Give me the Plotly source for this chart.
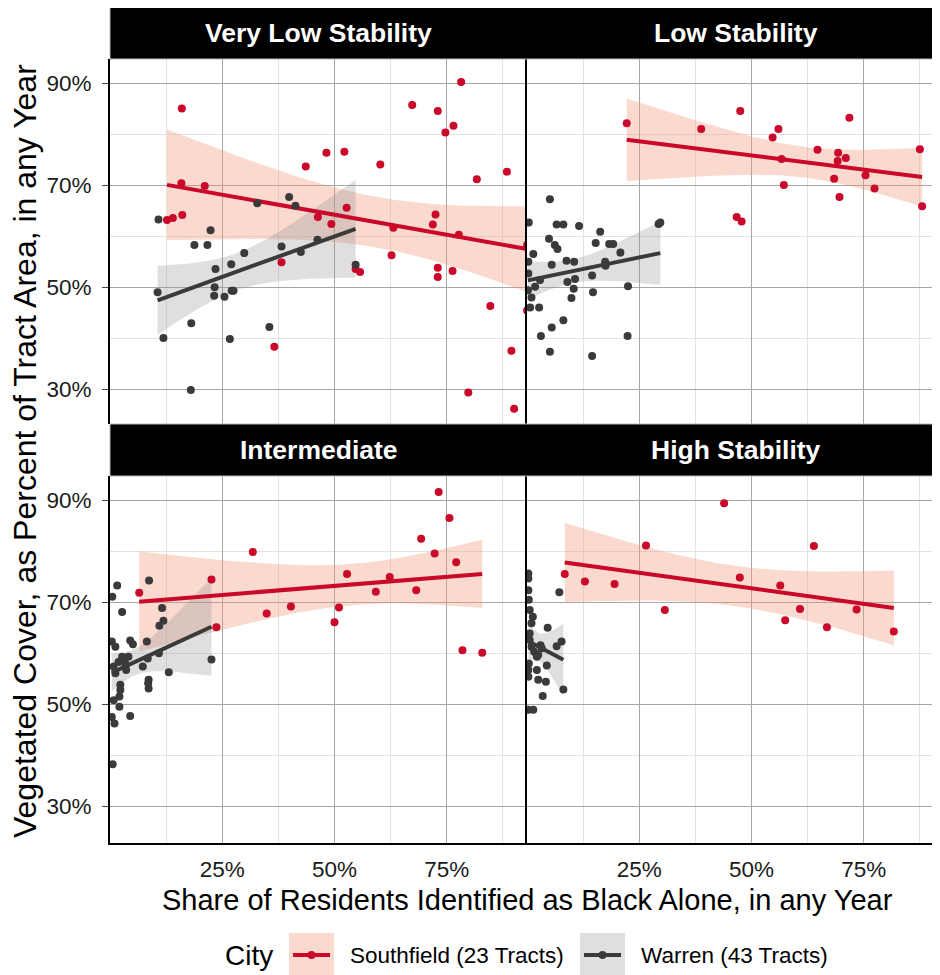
import numpy as np
import plotly.graph_objects as go

# ---------------- data (percent values) ----------------
panels = ["Very Low Stability", "Low Stability", "Intermediate", "High Stability"]
cities = ["Southfield (23 Tracts)", "Warren (43 Tracts)"]
x_ticks = [25, 50, 75]
x_tick_labels = ["25%", "50%", "75%"]
y_ticks = [30, 50, 70, 90]
y_tick_labels = ["30%", "50%", "70%", "90%"]

vls_south_x = [16.0, 15.9, 21.1, 12.7, 14.0, 16.1, 43.6, 48.2, 52.2, 52.7, 46.3, 49.3, 38.2, 36.6,
               54.7, 55.7, 60.2, 63.1, 62.7, 67.3, 73.0, 74.7, 76.5, 78.2, 72.5, 71.9, 77.7, 73.0,
               73.0, 76.3, 81.7, 88.4, 84.7, 89.4, 79.8, 90.0, 92.9, 92.9]
vls_south_y = [85.1, 70.4, 69.9, 63.2, 63.6, 64.2, 73.7, 76.4, 76.6, 65.6, 63.8, 62.4, 54.9, 38.3,
               53.6, 53.0, 74.1, 61.7, 56.3, 85.8, 84.6, 80.4, 81.7, 90.3, 64.3, 62.3, 60.3, 53.8,
               52.0, 53.2, 71.2, 72.7, 46.3, 37.5, 29.3, 26.1, 58.3, 45.4]
vls_warren_x = [10.8, 22.4, 18.8, 21.7, 29.9, 23.5, 27.0, 23.3, 23.2, 25.5, 27.1, 27.5, 10.6, 11.9,
                18.1, 18.0, 26.7, 35.5, 32.8, 39.9, 41.3, 38.2, 42.5, 46.2, 54.7]
vls_warren_y = [63.3, 61.2, 58.3, 58.3, 56.7, 53.6, 54.5, 50.0, 48.3, 48.1, 49.3, 49.3, 49.0, 40.0,
                42.9, 29.8, 39.8, 42.2, 66.5, 67.7, 66.0, 58.0, 56.9, 59.3, 54.4]

ls_south_x = [22.2, 38.8, 47.5, 54.7, 56.0, 56.7, 57.2, 46.7, 47.8, 64.7, 69.3, 71.0, 69.2, 71.8,
              68.4, 69.6, 75.4, 77.4, 87.5, 88.0]
ls_south_y = [82.2, 81.1, 84.6, 79.4, 81.1, 75.2, 70.1, 63.8, 62.9, 77.0, 76.4, 75.4, 74.8, 83.3,
              71.3, 67.7, 72.0, 69.4, 77.1, 65.9]
ls_warren_x = [5.1, 0.4, 6.6, 8.1, 11.6, 16.3, 4.9, 6.2, 6.8, 15.3, 18.3, 19.2, 20.8, 29.3, 29.7,
               1.4, 0.3, 5.5, 8.8, 10.5, 17.4, 17.5, 0.3, 2.9, 1.8, 9.0, 10.7, 10.4, 14.5, 22.5,
               1.0, 0.7, 2.7, 9.9, 14.7, 8.1, 5.5, 3.1, 5.1, 14.5, 22.4, 0.2]
ls_warren_y = [67.3, 62.7, 62.3, 62.3, 62.0, 60.9, 59.5, 58.3, 57.5, 58.7, 58.5, 58.5, 56.8, 62.4, 62.7,
               56.5, 55.0, 54.4, 55.2, 55.0, 55.0, 54.2, 52.7, 51.4, 50.1, 51.0, 51.6, 49.7, 52.3, 50.2,
               48.0, 46.0, 46.0, 47.9, 49.0, 43.5, 42.1, 40.4, 37.3, 36.5, 40.4, 49.4]

int_south_x = [6.5, 22.6, 23.7, 31.8, 34.9, 40.3, 50.0, 51.0, 52.8, 59.2, 62.3, 68.2, 69.3, 72.3,
               73.2, 75.6, 77.1, 78.5, 82.9]
int_south_y = [71.9, 74.5, 65.1, 79.9, 67.8, 69.2, 66.1, 69.0, 75.6, 72.1, 75.0, 72.4, 82.5, 79.6,
               91.7, 86.6, 77.9, 60.6, 60.1]
int_warren_x = [1.6, 0.5, 8.7, 2.7, 11.6, 11.9, 11.0, 8.2, 4.5, 5.1, 0.4, 1.2, 22.6, 2.7, 4.1, 3.4,
                0.8, 1.9, 8.4, 10.9, 7.3, 13.1, 3.6, 1.2, 8.6, 8.6, 8.5, 2.3, 2.3, 2.1, 0.8, 2.1,
                4.5, 0.4, 1.0, 0.6]
int_warren_y = [73.3, 71.1, 74.3, 68.1, 68.9, 66.4, 65.4, 62.3, 62.5, 61.8, 62.3, 61.3, 58.8, 59.3,
                59.3, 58.0, 57.4, 58.3, 59.0, 60.0, 57.4, 56.3, 56.7, 56.1, 54.8, 53.1, 54.1, 53.8,
                52.8, 51.5, 50.8, 49.5, 47.7, 47.5, 46.2, 38.2]

hs_south_x = [8.4, 12.9, 19.5, 26.5, 30.7, 43.9, 47.4, 56.4, 57.5, 60.8, 63.9, 66.8, 73.4, 81.7]
hs_south_y = [75.6, 74.1, 73.6, 81.2, 68.5, 89.5, 74.9, 73.3, 66.5, 68.7, 81.1, 65.1, 68.6, 64.3]
hs_warren_x = [7.2, 0.3, 0.3, 0.3, 0.4, 0.6, 1.3, 1.0, 4.6, 0.6, 0.6, 1.0, 1.6, 2.5, 3.0, 3.3, 6.6,
               7.7, 2.2, 0.4, 0.3, 2.2, 0.3, 2.5, 4.4, 4.2, 8.1, 3.5, 0.3, 1.4]
hs_warren_y = [72.0, 75.7, 74.7, 72.4, 70.5, 68.5, 67.2, 65.9, 65.0, 63.9, 62.6, 61.3, 60.3, 59.7,
               61.6, 61.0, 61.4, 62.3, 59.3, 58.0, 56.7, 56.7, 55.4, 54.8, 57.6, 54.4, 52.9, 51.6,
               48.9, 48.9]

panel_data = [
    (vls_south_x, vls_south_y, vls_warren_x, vls_warren_y),
    (ls_south_x, ls_south_y, ls_warren_x, ls_warren_y),
    (int_south_x, int_south_y, int_warren_x, int_warren_y),
    (hs_south_x, hs_south_y, hs_warren_x, hs_warren_y),
]

# ---------------- styles ----------------
RED = "#C9082A"
GREY = "#3A3A3A"
RED_BAND = "rgba(240,150,120,0.36)"
GREY_BAND = "rgba(150,150,150,0.30)"
FONT = "Liberation Sans, Arial, Helvetica, sans-serif"
OFF = 8                      # default body margin of the html page
W, H = 940 - OFF, 975 - OFF  # figure size so that it fills the window


def t975(dof):
    z = 1.959963985
    g1 = (z ** 3 + z) / 4
    g2 = (5 * z ** 5 + 16 * z ** 3 + 3 * z) / 96
    g3 = (3 * z ** 7 + 19 * z ** 5 + 17 * z ** 3 - 15 * z) / 384
    return z + g1 / dof + g2 / dof ** 2 + g3 / dof ** 3


def lm_fit(x, y, n_out=80):
    x = np.asarray(x, float)
    y = np.asarray(y, float)
    n = len(x)
    b1, b0 = np.polyfit(x, y, 1)
    xs = np.linspace(x.min(), x.max(), n_out)
    yh = b0 + b1 * xs
    s = np.sqrt(np.sum((y - (b0 + b1 * x)) ** 2) / (n - 2))
    sxx = np.sum((x - x.mean()) ** 2)
    se = s * np.sqrt(1.0 / n + (xs - x.mean()) ** 2 / sxx)
    t = t975(n - 2)
    return xs, yh, yh - t * se, yh + t * se


def px2p(x, y):
    """window pixel -> paper coordinate"""
    return (x - OFF) / W, 1 - (y - OFF) / H


fig = go.Figure()

# panel geometry (window pixels)
px_left = [110, 527, 110, 527]
px_right = [527, 940, 527, 940]
px_top = [59, 59, 476, 476]
px_bot = [424, 424, 843, 843]
xscale = 4.49  # px per percent
y30_px = [389, 389, 806, 806]
yscale = 5.09

for i, (sx, sy, wx, wy) in enumerate(panel_data):
    k = "" if i == 0 else str(i + 1)
    xa, ya = "x" + k, "y" + k
    for (xx, yy, band) in [(sx, sy, RED_BAND), (wx, wy, GREY_BAND)]:
        xs, yh, lo, hi = lm_fit(xx, yy)
        fig.add_trace(go.Scatter(x=np.concatenate([xs, xs[::-1]]), y=np.concatenate([hi, lo[::-1]]),
                                 fill="toself", fillcolor=band, line=dict(width=0), mode="lines",
                                 hoverinfo="skip", showlegend=False, xaxis=xa, yaxis=ya))
    for (xx, yy, col) in [(sx, sy, RED), (wx, wy, GREY)]:
        xs, yh, lo, hi = lm_fit(xx, yy)
        fig.add_trace(go.Scatter(x=xs, y=yh, mode="lines", line=dict(color=col, width=4),
                                 showlegend=False, hoverinfo="skip", xaxis=xa, yaxis=ya))
    for (xx, yy, col, name) in [(sx, sy, RED, cities[0]), (wx, wy, GREY, cities[1])]:
        fig.add_trace(go.Scatter(x=xx, y=yy, mode="markers", marker=dict(color=col, size=8),
                                 name=name, showlegend=False, cliponaxis=True, xaxis=xa, yaxis=ya))

layout = dict(width=W, height=H, margin=dict(l=0, r=0, t=0, b=0), autosize=False,
              paper_bgcolor="white", plot_bgcolor="white", font=dict(family=FONT, color="#1a1a1a"),
              showlegend=False)

for i in range(4):
    k = "" if i == 0 else str(i + 1)
    x0, x1 = px_left[i], px_right[i]
    t, b = px_top[i], px_bot[i]
    xr = [0, (x1 - x0) / xscale]
    yr = [30 - (b - y30_px[i]) / yscale, 30 + (y30_px[i] - t) / yscale]
    bottom = i >= 2
    left = i in (0, 2)
    dx0, _ = px2p(x0, 0)
    dx1, _ = px2p(x1, 0)
    _, dy0 = px2p(0, b)
    _, dy1 = px2p(0, t)
    layout["xaxis" + k] = dict(
        domain=[dx0, min(dx1, 1.0)], range=xr, anchor="y" + k, tickvals=x_ticks, ticktext=x_tick_labels,
        showticklabels=bottom, ticks="", showgrid=True, gridcolor="#a6a6a6", gridwidth=1,
        zeroline=False, showline=bottom, linecolor="black", linewidth=2,
        tickfont=dict(size=22.5, color="#1a1a1a"), ticklabelstandoff=5,
        minor=dict(tickvals=[12.5, 37.5, 62.5, 87.5], showgrid=True, gridcolor="#e2e2e2", gridwidth=1),
        fixedrange=True)
    layout["yaxis" + k] = dict(
        domain=[dy0, dy1], range=yr, anchor="x" + k, tickvals=y_ticks, ticktext=y_tick_labels,
        showticklabels=left, ticks="outside" if left else "", ticklen=6, tickcolor="#444", tickwidth=1,
        showgrid=True, gridcolor="#a6a6a6", gridwidth=1, zeroline=False, showline=True,
        linecolor="black", linewidth=2, tickfont=dict(size=22.5, color="#1a1a1a"), ticklabelstandoff=6,
        minor=dict(tickvals=[40, 60, 80], showgrid=True, gridcolor="#e2e2e2", gridwidth=1, ticks=""),
        fixedrange=True)

shapes = []
annotations = []

# strips
for (t, b) in [(7, 59), (424, 476)]:
    (xa, ya), (xb, yb) = px2p(110, t), px2p(940, b)
    shapes.append(dict(type="rect", xref="paper", yref="paper", x0=xa, x1=xb, y0=yb, y1=ya,
                       fillcolor="black", line=dict(color="#bbbbbb", width=1), layer="above"))
strip_pos = [(318.5, 33), (735.5, 33), (318.5, 450), (735.5, 450)]
for name, (sx_, sy_) in zip(panels, strip_pos):
    ax, ay = px2p(sx_, sy_)
    annotations.append(dict(text="<b>" + name + "</b>", x=ax, y=ay, xref="paper", yref="paper",
                            showarrow=False, font=dict(size=26.5, color="white", family=FONT),
                            xanchor="center", yanchor="middle"))

# axis titles
ax, ay = px2p(527.5, 900)
annotations.append(dict(text="Share of Residents Identified as Black Alone, in any Year", x=ax, y=ay,
                        xref="paper", yref="paper", showarrow=False, font=dict(size=29, color="black"),
                        xanchor="center", yanchor="middle"))
ax, ay = px2p(25, 451)
annotations.append(dict(text="Vegetated Cover, as Percent of Tract Area, in any Year", x=ax, y=ay,
                        xref="paper", yref="paper", showarrow=False, textangle=-90,
                        font=dict(size=32, color="black"), xanchor="center", yanchor="middle"))

# legend (manual, ggplot style)
ax, ay = px2p(223, 955)
annotations.append(dict(text="City", x=ax, y=ay, xref="paper", yref="paper", showarrow=False,
                        font=dict(size=28, color="black"), xanchor="left", yanchor="middle"))
for (kx, col, band, label) in [(289, RED, RED_BAND, cities[0]), (580, GREY, GREY_BAND, cities[1])]:
    (xa, ya), (xb, yb) = px2p(kx, 933), px2p(kx + 45, 977)
    shapes.append(dict(type="rect", xref="paper", yref="paper", x0=xa, x1=xb, y0=yb, y1=ya,
                       fillcolor=band, line=dict(width=0)))
    (la, lya), (lb, _) = px2p(kx + 4, 955), px2p(kx + 41, 955)
    shapes.append(dict(type="line", xref="paper", yref="paper", x0=la, x1=lb, y0=lya, y1=lya,
                       line=dict(color=col, width=4)))
    (ca, cya), (cb, cyb) = px2p(kx + 18.5, 951), px2p(kx + 26.5, 959)
    shapes.append(dict(type="circle", xref="paper", yref="paper", x0=ca, x1=cb, y0=cyb, y1=cya,
                       fillcolor=col, line=dict(width=0)))
    tx, ty = px2p(kx + 59, 955)
    annotations.append(dict(text=label, x=tx, y=ty, xref="paper", yref="paper", showarrow=False,
                            font=dict(size=22.5, color="black"), xanchor="left", yanchor="middle"))

layout["shapes"] = shapes
layout["annotations"] = annotations
fig.update_layout(**layout)
fig.write_html("out.html")
